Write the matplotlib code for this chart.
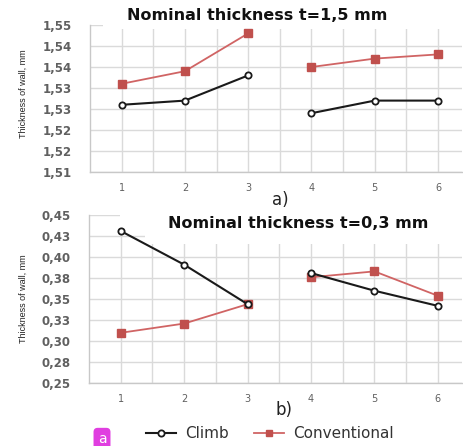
import matplotlib
matplotlib.use("Agg")
import matplotlib.pyplot as plt
from matplotlib.lines import Line2D
from matplotlib.patches import Rectangle

# ---- data ----
passes = [1, 2, 3, 4, 5, 6]
top_climb = [1.526, 1.527, 1.533, 1.524, 1.527, 1.527]
top_conv = [1.531, 1.534, 1.543, 1.535, 1.537, 1.538]
bot_climb = [0.431, 0.391, 0.344, 0.381, 0.360, 0.342]
bot_conv = [0.310, 0.321, 0.344, 0.376, 0.383, 0.354]

top_yticks = [1.510, 1.515, 1.520, 1.525, 1.530, 1.535, 1.540, 1.545]
top_ylabels = ["1,51", "1,52", "1,52", "1,53", "1,53", "1,54", "1,54", "1,55"]
bot_yticks = [0.25, 0.275, 0.30, 0.325, 0.35, 0.375, 0.40, 0.425, 0.45]
bot_ylabels = ["0,25", "0,28", "0,30", "0,33", "0,35", "0,38", "0,40", "0,43", "0,45"]
xlabels = ["1", "2", "3", "4", "5", "6"]

top_title = "Nominal thickness t=1,5 mm"
bot_title = "Nominal thickness t=0,3 mm"
ylabel = "Thickness of wall, mm"
series_names = ["Climb", "Conventional"]

W, H = 464, 446
fig = plt.figure(figsize=(W / 100, H / 100), dpi=100)
fig.patch.set_facecolor("white")

def fx(px):
    return px / W

def fy(py):
    return 1 - py / H

BLACK = "#1a1a1a"
RED_LINE = "#d06464"
RED_MARK = "#c0504d"
GRID = "#dadada"
TXT = "#606060"

def make_axes(left, top, right, bottom):
    return fig.add_axes([fx(left), fy(bottom), fx(right) - fx(left), fy(top) - fy(bottom)])

def style(ax, yticks, ylabels, ylim):
    ax.set_xlim(0.5, 6.38)
    ax.set_ylim(*ylim)
    ax.set_xticks(passes)
    ax.set_xticklabels(xlabels, fontsize=7, color=TXT)
    ax.set_xticks([1.5, 2.5, 3.5, 4.5, 5.5], minor=True)
    ax.set_yticks(yticks)
    ax.set_yticklabels(ylabels, fontsize=8.5, color=TXT, fontweight="semibold")
    ax.tick_params(axis="both", which="both", length=0)
    ax.tick_params(axis="y", pad=13)
    ax.tick_params(axis="x", pad=8)
    ax.grid(True, which="both", color=GRID, linewidth=1.0)
    ax.set_axisbelow(True)
    for s in ["top", "right"]:
        ax.spines[s].set_visible(False)
    for s in ["left", "bottom"]:
        ax.spines[s].set_color("#c8c8c8")
        ax.spines[s].set_linewidth(1.0)

def draw_series(ax, climb, conv):
    for seg in (slice(0, 3), slice(3, 6)):
        ax.plot(passes[seg], conv[seg], color=RED_LINE, linewidth=1.3,
                marker="s", markersize=5.5, markerfacecolor=RED_MARK,
                markeredgecolor=RED_MARK, zorder=4)
        ax.plot(passes[seg], climb[seg], color=BLACK, linewidth=1.5,
                marker="o", markersize=4.5, markerfacecolor="white",
                markeredgecolor=BLACK, markeredgewidth=1.3, zorder=5)

# top axes
ax1 = make_axes(90, 25, 462, 172)
style(ax1, top_yticks, top_ylabels, (1.510, 1.545))
ax1.add_patch(Rectangle((13 / 372, 0.97), 1.0, 0.1,
                        transform=ax1.transAxes, facecolor="white",
                        edgecolor="none", zorder=2, clip_on=False))
draw_series(ax1, top_climb, top_conv)
fig.text(fx(257), fy(15), top_title, fontsize=11.5, fontweight="bold",
         color="#111111", ha="center", va="center")

# bottom axes
ax2 = make_axes(89, 215, 462, 383.3)
style(ax2, bot_yticks, bot_ylabels, (0.25, 0.45))
ax2.add_patch(Rectangle((31 / 373, 0.9), 1.0, 0.2, transform=ax2.transAxes,
                        facecolor="white", edgecolor="none", zorder=2, clip_on=False))
ax2.add_patch(Rectangle((56 / 373, 0.83), 1.0, 0.2, transform=ax2.transAxes,
                        facecolor="white", edgecolor="none", zorder=2, clip_on=False))
draw_series(ax2, bot_climb, bot_conv)
fig.text(fx(298), fy(223), bot_title, fontsize=11.5, fontweight="bold",
         color="#111111", ha="center", va="center")

# y labels
for yc in (94, 299):
    fig.text(fx(23), fy(yc), ylabel, rotation=90, ha="center", va="center",
             fontsize=6.5, color="#222222",
             family=["Liberation Sans", "DejaVu Sans"])

# panel labels
fig.text(fx(280), fy(200), "a)", fontsize=12, color="#222222", ha="center", va="center")
fig.text(fx(284), fy(410), "b)", fontsize=12, color="#222222", ha="center", va="center")

# legend
handles = [
    Line2D([], [], color=BLACK, linewidth=1.5, marker="o", markersize=4.5,
           markerfacecolor="white", markeredgecolor=BLACK, markeredgewidth=1.3),
    Line2D([], [], color=RED_LINE, linewidth=1.3, marker="s", markersize=4,
           markerfacecolor=RED_MARK, markeredgecolor=RED_MARK),
]
fig.legend(handles, series_names, loc="center", bbox_to_anchor=(fx(270), fy(434)),
           ncol=2, frameon=False, fontsize=11, handlelength=2.0, handletextpad=0.6,
           columnspacing=1.6, labelcolor="#333333")

# pink marker box
fig.text(fx(102), fy(432), "a", fontsize=10, color="white", ha="center", va="top",
         bbox=dict(boxstyle="round,pad=0.3", facecolor="#e03ee0", edgecolor="none"))

fig.savefig("out.png", dpi=100, facecolor="white")
